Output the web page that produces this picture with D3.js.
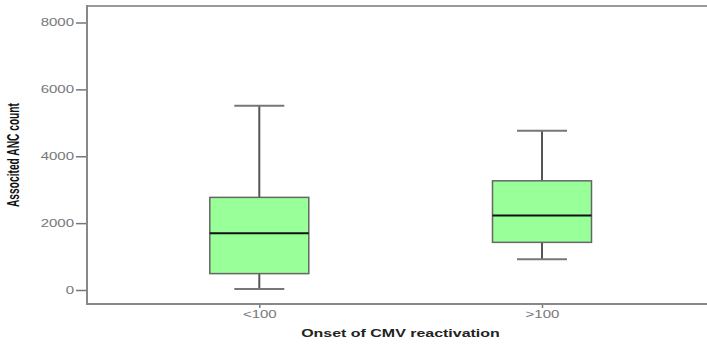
<!DOCTYPE html>
<html><head><meta charset="utf-8">
<script src="https://cdn.jsdelivr.net/npm/d3@7"></script>
<style>body{margin:0;background:#fff;}svg{display:block;}</style>
</head><body>
<svg id="c" width="707" height="344"></svg>
<script>
const categories = ["<100", ">100"];
const whiskerLow  = [30, 920];
const q1          = [490, 1425];
const medians     = [1695, 2230];
const q3          = [2770, 3265];
const whiskerHigh = [5510, 4765];
const yTicks = [0, 2000, 4000, 6000, 8000];
const xTitle = "Onset of CMV reactivation";
const yTitle = "Associted ANC count";

(function(){
const svg = d3.select("#c");
const pL = 87, pR = 707, pT = 6, pB = 304;
const y = d3.scaleLinear().domain([0, 8000]).range([290, 22.5]);
const x = d3.scalePoint().domain(categories).range([259.3, 542]);
const boxW = 99, capW = 50;
const stretch = 1.5;
function widen(sel, k){ sel.each(function(){ const l=this.getComputedTextLength(); this.setAttribute("textLength", l*k); this.setAttribute("lengthAdjust","spacingAndGlyphs"); }); }

svg.append("line").attr("x1",pL).attr("x2",pR).attr("y1",pT).attr("y2",pT)
  .attr("stroke","#999").attr("stroke-width",2);

const ya = svg.append("g").attr("transform",`translate(${pL},0)`)
  .call(d3.axisLeft(y).tickValues(yTicks).tickSize(11).tickPadding(2).tickFormat(d3.format("d")));
ya.select(".domain").remove();
ya.selectAll(".tick line").attr("stroke","#777").attr("stroke-width",1.5);
ya.selectAll(".tick text").attr("fill","#777").attr("font-family","Liberation Sans, Arial, sans-serif").attr("font-size",10);
widen(ya.selectAll(".tick text"), stretch);
svg.append("line").attr("x1",pL).attr("x2",pL).attr("y1",pT-1).attr("y2",pB+1)
  .attr("stroke","#888").attr("stroke-width",2);

const xa = svg.append("g").attr("transform",`translate(0,${pB})`)
  .call(d3.axisBottom(x).tickSize(4).tickPadding(3));
xa.select(".domain").remove();
xa.selectAll(".tick line").attr("stroke","#777").attr("stroke-width",1.5);
xa.selectAll(".tick text").attr("fill","#777").attr("font-family","Liberation Sans, Arial, sans-serif").attr("font-size",10);
widen(xa.selectAll(".tick text"), stretch);
svg.append("line").attr("x1",pL).attr("x2",pR).attr("y1",pB).attr("y2",pB)
  .attr("stroke","#888").attr("stroke-width",2);

categories.forEach((c,i)=>{
  const cx = x(c);
  const g = svg.append("g");
  g.append("line").attr("x1",cx).attr("x2",cx).attr("y1",y(whiskerHigh[i])).attr("y2",y(q3[i])).attr("stroke","#555").attr("stroke-width",2);
  g.append("line").attr("x1",cx).attr("x2",cx).attr("y1",y(q1[i])).attr("y2",y(whiskerLow[i])).attr("stroke","#555").attr("stroke-width",2);
  g.append("line").attr("x1",cx-capW/2).attr("x2",cx+capW/2).attr("y1",y(whiskerHigh[i])).attr("y2",y(whiskerHigh[i])).attr("stroke","#777").attr("stroke-width",2);
  g.append("line").attr("x1",cx-capW/2).attr("x2",cx+capW/2).attr("y1",y(whiskerLow[i])).attr("y2",y(whiskerLow[i])).attr("stroke","#777").attr("stroke-width",2);
  g.append("rect").attr("x",cx-boxW/2).attr("y",y(q3[i])).attr("width",boxW).attr("height",y(q1[i])-y(q3[i]))
    .attr("fill","#99ff99").attr("stroke","#666").attr("stroke-width",1.5);
  g.append("line").attr("x1",cx-boxW/2).attr("x2",cx+boxW/2).attr("y1",y(medians[i])).attr("y2",y(medians[i])).attr("stroke","#111").attr("stroke-width",2);
});

const xt = svg.append("text").attr("x",400.5).attr("y",337).attr("text-anchor","middle")
  .attr("font-family","Liberation Sans, Arial, sans-serif").attr("font-weight","bold").attr("font-size",11)
  .attr("fill","#222").text(xTitle);
widen(xt, 1.45);
svg.append("text").attr("transform","translate(19,155) scale(1.6,1) rotate(-90)")
  .attr("text-anchor","middle").attr("font-family","Liberation Sans Narrow, Liberation Sans, Arial, sans-serif")
  .attr("font-weight","bold").attr("font-size",10.5).attr("fill","#111").attr("textLength",104).attr("lengthAdjust","spacingAndGlyphs")
  .text(yTitle);
})();
</script>
</body></html>
